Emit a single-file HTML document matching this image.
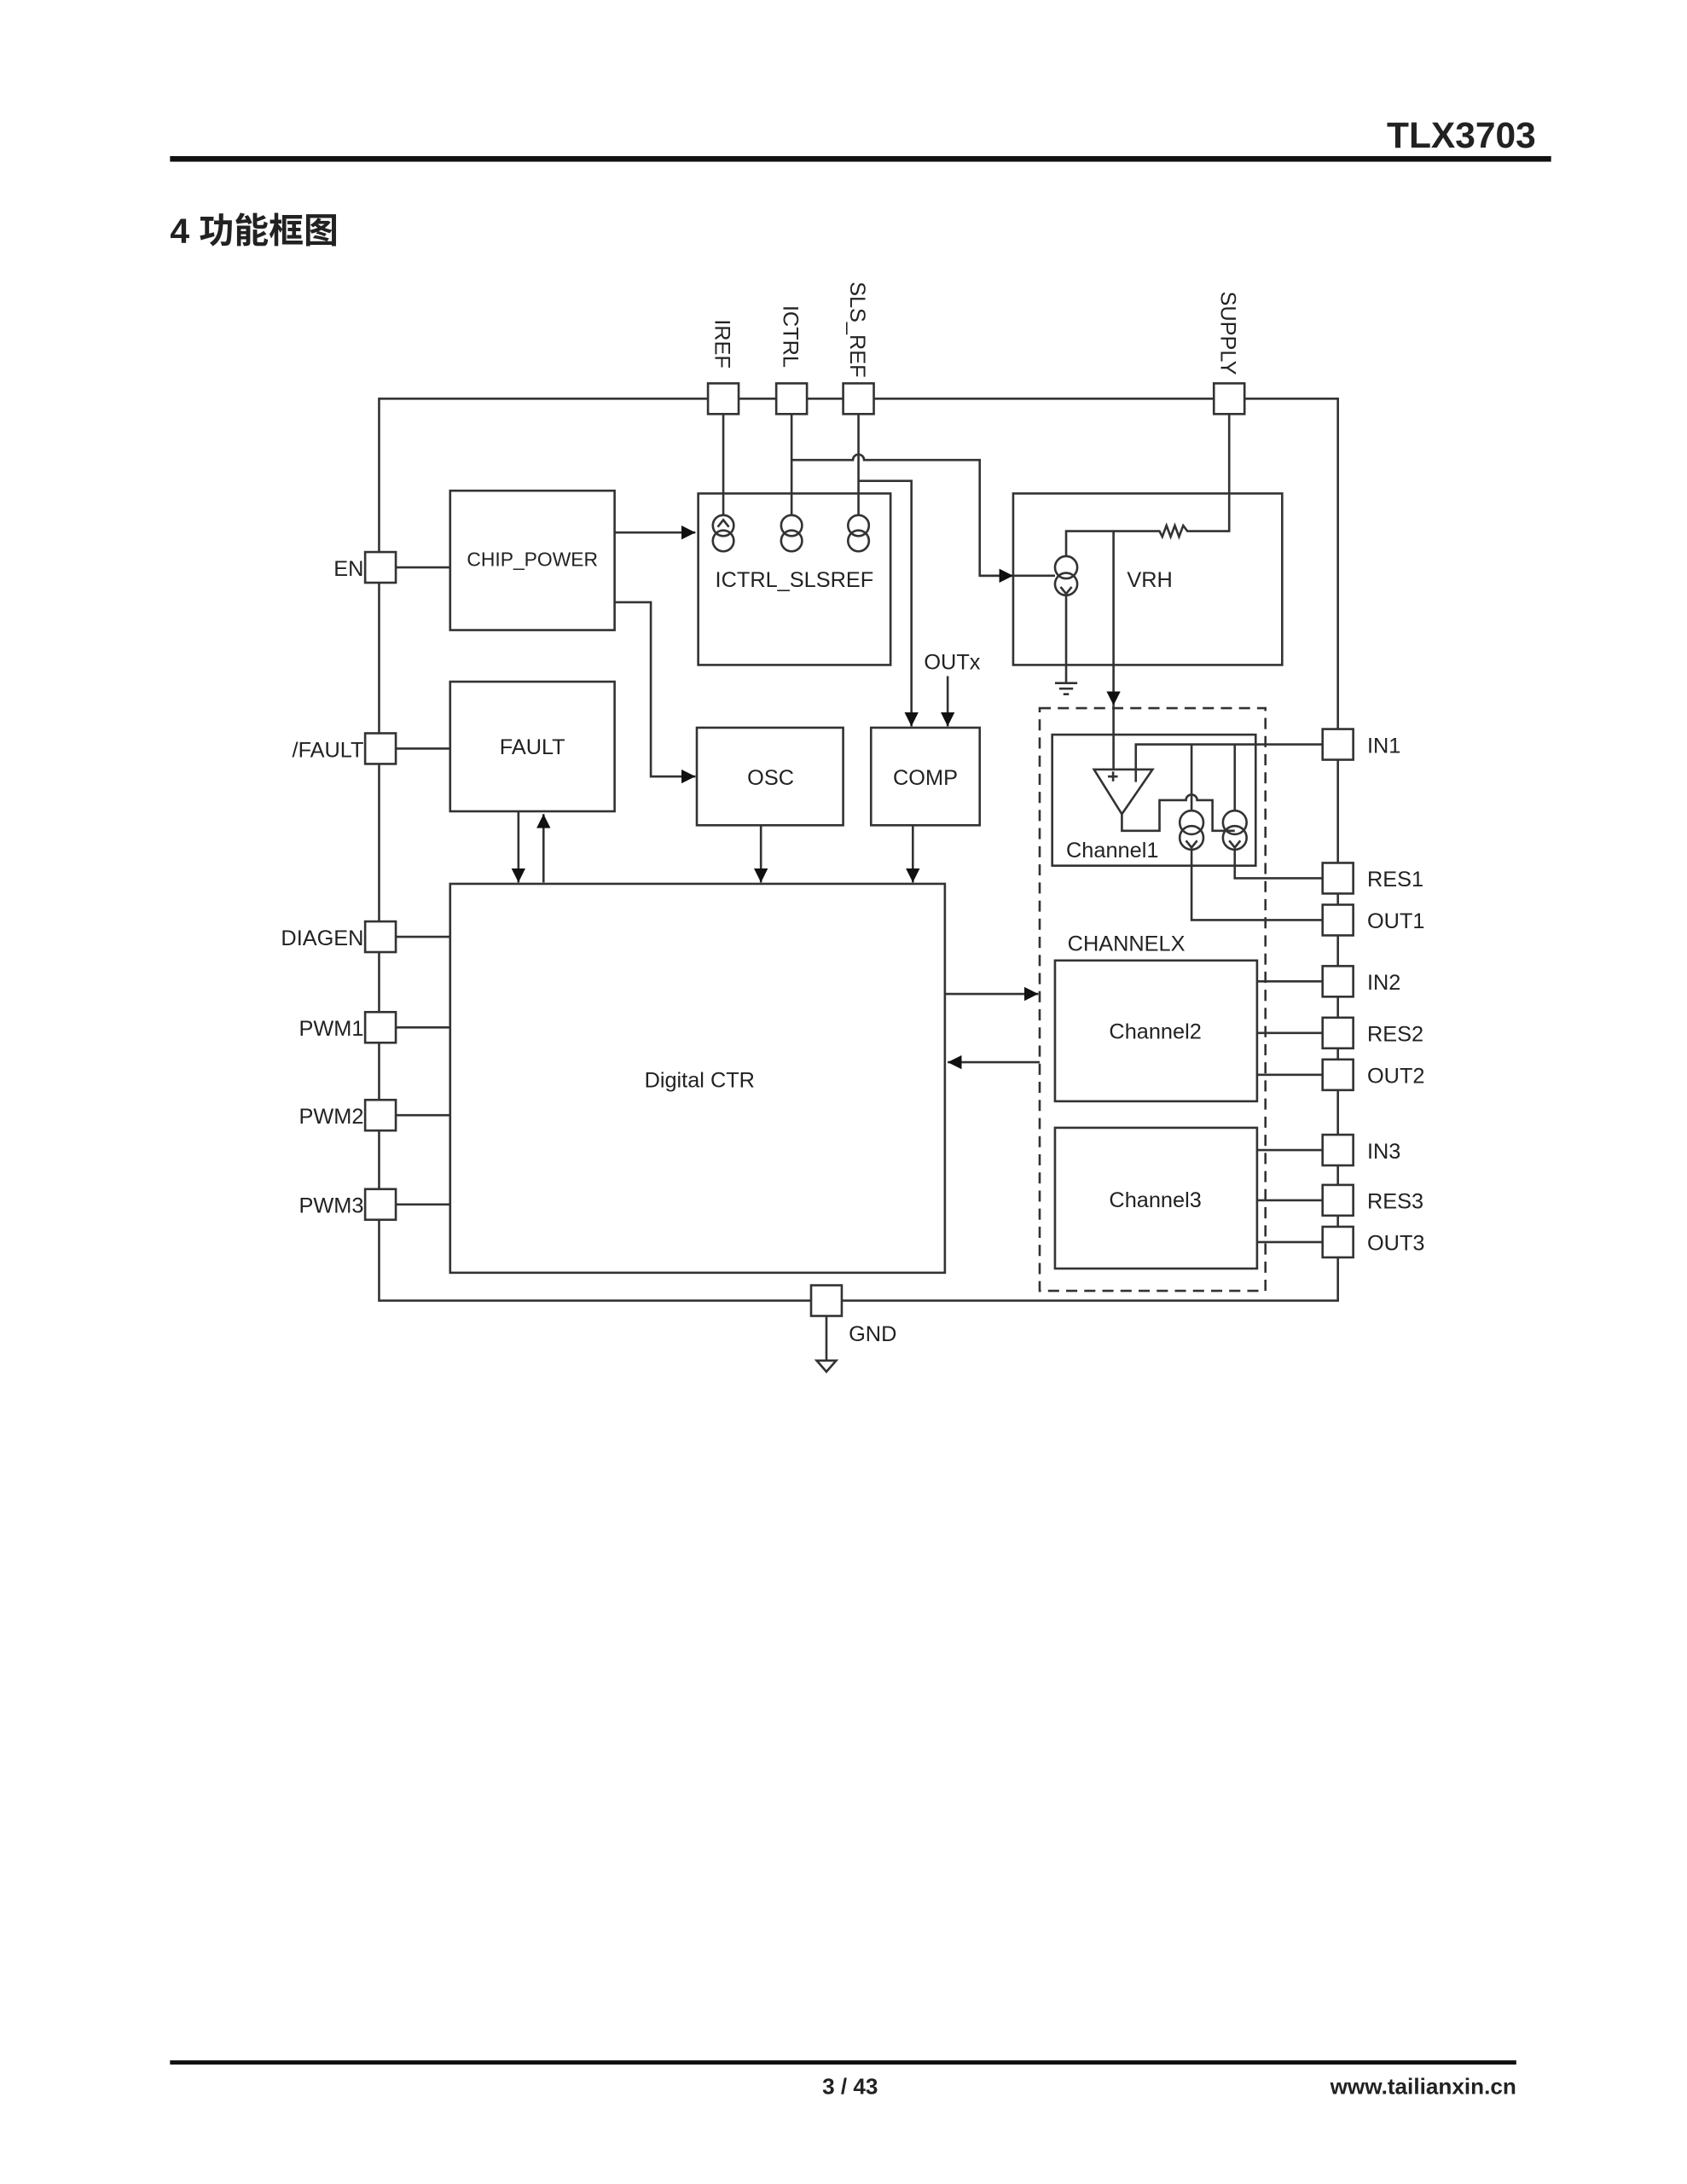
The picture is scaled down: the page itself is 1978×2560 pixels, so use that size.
<!DOCTYPE html>
<html><head><meta charset="utf-8"><style>
html,body{margin:0;padding:0;background:#fff;}
svg{display:block;}
text{font-family:"Liberation Sans","Noto Sans CJK SC",sans-serif;fill:#222;}
</style></head><body>
<svg width="1978" height="2560" viewBox="0 0 1210.5 1566.7" preserveAspectRatio="none" xmlns="http://www.w3.org/2000/svg">
<defs>
<marker id="a" viewBox="0 0 10 10" refX="10" refY="5" markerWidth="13" markerHeight="10" markerUnits="userSpaceOnUse" orient="auto"><path d="M0,0 L10,5 L0,10 z" fill="#111"/></marker>
</defs>
<!-- header -->
<text x="1102" y="106" font-size="26" font-weight="bold" text-anchor="end" fill="#111">TLX3703</text>
<rect x="122" y="112" width="991" height="4" fill="#111"/>
<text x="122" y="174" font-size="25" font-weight="bold" fill="#111">4 功能框图</text>

<g stroke="#333" stroke-width="1.6" fill="none">
<rect x="272" y="286" width="688" height="647"/>
<g fill="#fff">
<rect x="508" y="275" width="22" height="22"/>
<rect x="557" y="275" width="22" height="22"/>
<rect x="605" y="275" width="22" height="22"/>
<rect x="871" y="275" width="22" height="22"/>
<rect x="262" y="396" width="22" height="22"/>
<rect x="262" y="526" width="22" height="22"/>
<rect x="262" y="661" width="22" height="22"/>
<rect x="262" y="726" width="22" height="22"/>
<rect x="262" y="789" width="22" height="22"/>
<rect x="262" y="853" width="22" height="22"/>
<rect x="949" y="523" width="22" height="22"/>
<rect x="949" y="619" width="22" height="22"/>
<rect x="949" y="649" width="22" height="22"/>
<rect x="949" y="693" width="22" height="22"/>
<rect x="949" y="730" width="22" height="22"/>
<rect x="949" y="760" width="22" height="22"/>
<rect x="949" y="814" width="22" height="22"/>
<rect x="949" y="850" width="22" height="22"/>
<rect x="949" y="880" width="22" height="22"/>
<rect x="582" y="922" width="22" height="22"/>
</g>
<path d="M593 944 V976"/>
<path d="M586 976 H600 L593 984 Z"/>

<rect x="323" y="352" width="118" height="100"/>
<rect x="501" y="354" width="138" height="123"/>
<rect x="727" y="354" width="193" height="123"/>
<rect x="323" y="489" width="118" height="93"/>
<rect x="500" y="522" width="105" height="70"/>
<rect x="625" y="522" width="78" height="70"/>
<rect x="323" y="634" width="355" height="279"/>
<rect x="746" y="508" width="162" height="418" stroke-dasharray="8,5"/>
<rect x="755" y="527" width="146" height="94"/>
<rect x="757" y="689" width="145" height="101"/>
<rect x="757" y="809" width="145" height="101"/>

<path d="M284 407 H323 M284 537 H323 M284 672 H323 M284 737 H323 M284 800 H323 M284 864 H323"/>
<path d="M441 382 H499" marker-end="url(#a)"/>
<path d="M441 432 H467 V557 H499" marker-end="url(#a)"/>
<path d="M372 582 V633" marker-end="url(#a)"/>
<path d="M390 633 V584" marker-end="url(#a)"/>
<path d="M546 592 V633" marker-end="url(#a)"/>
<path d="M655 592 V633" marker-end="url(#a)"/>
<path d="M678 713 H745" marker-end="url(#a)"/>
<path d="M746 762 H680" marker-end="url(#a)"/>
<path d="M680 485 V521" marker-end="url(#a)"/>
<path d="M519 297 V369 M568 297 V369 M616 297 V369"/>
<circle cx="519" cy="377" r="7.5"/><circle cx="519" cy="388" r="7.5"/>
<circle cx="568" cy="377" r="7.5"/><circle cx="568" cy="388" r="7.5"/>
<circle cx="616" cy="377" r="7.5"/><circle cx="616" cy="388" r="7.5"/>
<path d="M515 378 L519 373 L523 378"/>
<path d="M568 330 H612 A4 4 0 0 1 620 330 H703 V413 H726" />
<path d="M703 413 H727" marker-end="url(#a)"/>
<path d="M727 413 H757"/>
<path d="M616 345 H654 V521" marker-end="url(#a)"/>
<path d="M882 297 V381 H852 l-3 -4 l-3 8 l-3 -8 l-3 8 l-3 -8 l-3 8 l-2 -4 H765 V399"/>
<circle cx="765" cy="407" r="8"/><circle cx="765" cy="419" r="8"/>
<path d="M761 421 L765 426 L769 421"/>
<path d="M765 427 V490 M757 490 H773 M760 494 H770 M763 498 H767"/>
<path d="M799 381 V506" marker-end="url(#a)"/>
<path d="M799 506 V552"/>
<path d="M949 534 H815 V561"/>
<path d="M785 552 H827 L805 584 Z"/>
<path d="M795 557 H802 M798.7 553.5 V560.5"/>
<path d="M805 584 V596 H832 V574 H851 A4 4 0 0 1 859 574 H870 V596 H886"/>
<path d="M855 534 V581 M886 534 V581"/>
<circle cx="855" cy="590" r="8.5"/><circle cx="855" cy="601" r="8.5"/>
<circle cx="886" cy="590" r="8.5"/><circle cx="886" cy="601" r="8.5"/>
<path d="M851 603 L855 608 L859 603 M882 603 L886 608 L890 603"/>
<path d="M855 610 V660 H949 M886 610 V630 H949"/>
<path d="M902 704 H949 M902 741 H949 M902 771 H949 M902 825 H949 M902 861 H949 M902 891 H949"/>
</g>

<g font-size="15.5">
<text transform="translate(513,229) rotate(90)">IREF</text>
<text transform="translate(562,219) rotate(90)">ICTRL</text>
<text transform="translate(610,202) rotate(90)">SLS_REF</text>
<text transform="translate(876,209) rotate(90)">SUPPLY</text>
<g text-anchor="end">
<text x="261" y="413">EN</text>
<text x="261" y="543">/FAULT</text>
<text x="261" y="678">DIAGEN</text>
<text x="261" y="743">PWM1</text>
<text x="261" y="806">PWM2</text>
<text x="261" y="870">PWM3</text>
</g>
<text x="981" y="540">IN1</text>
<text x="981" y="636">RES1</text>
<text x="981" y="666">OUT1</text>
<text x="981" y="710">IN2</text>
<text x="981" y="747">RES2</text>
<text x="981" y="777">OUT2</text>
<text x="981" y="831">IN3</text>
<text x="981" y="867">RES3</text>
<text x="981" y="897">OUT3</text>
<text x="609" y="962">GND</text>
<text x="663" y="480">OUTx</text>
<g text-anchor="middle">
<text x="382" y="406" font-size="14">CHIP_POWER</text>
<text x="570" y="421">ICTRL_SLSREF</text>
<text x="825" y="421">VRH</text>
<text x="382" y="541">FAULT</text>
<text x="553" y="563">OSC</text>
<text x="664" y="563">COMP</text>
<text x="502" y="780">Digital CTR</text>
<text x="829" y="745">Channel2</text>
<text x="829" y="866">Channel3</text>
</g>
<text x="765" y="615">Channel1</text>
<text x="766" y="682">CHANNELX</text>
</g>

<rect x="122" y="1478" width="966" height="3" fill="#111"/>
<text x="610" y="1502" font-size="16" font-weight="bold" text-anchor="middle" fill="#111">3 / 43</text>
<text x="1088" y="1502" font-size="16" font-weight="bold" text-anchor="end" fill="#111">www.tailianxin.cn</text>
</svg>
</body></html>
